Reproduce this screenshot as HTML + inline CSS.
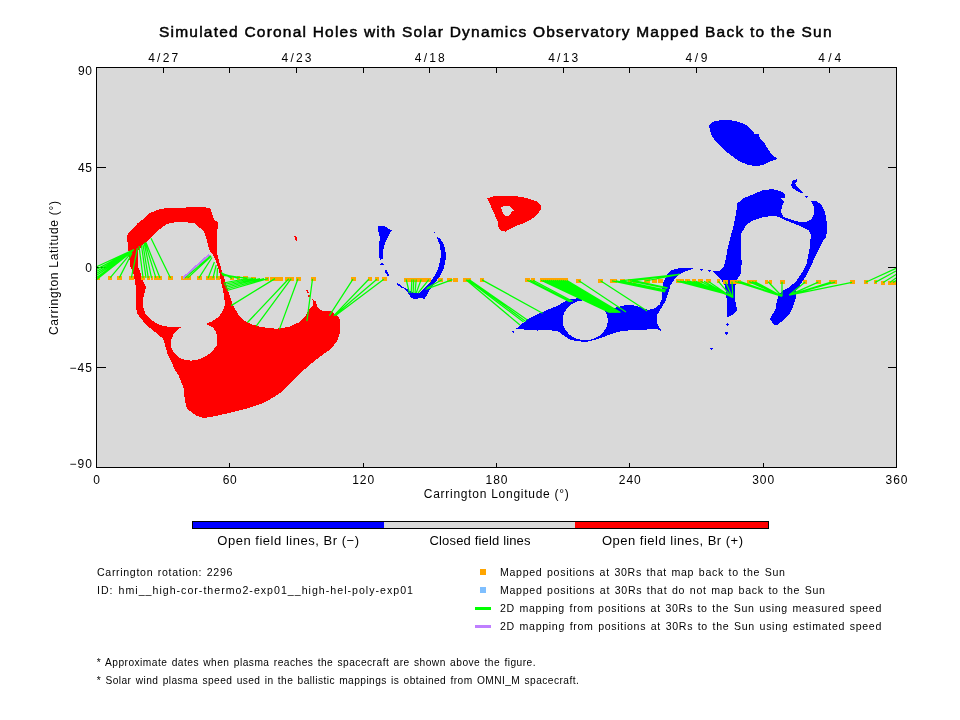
<!DOCTYPE html>
<html lang="en"><head><meta charset="utf-8">
<title>Simulated Coronal Holes with Solar Dynamics Observatory Mapped Back to the Sun</title>
<style>
html,body{margin:0;padding:0;background:#fff;}
body{width:960px;height:720px;overflow:hidden;}
svg{display:block;}
text{font-family:"Liberation Sans",sans-serif;fill:#000;}
.t12{font-size:12px;}
.t13{font-size:13px;}
.t11{font-size:10.6px;word-spacing:1px;}
.t10{font-size:10.2px;word-spacing:1px;}
.title{font-size:15.5px;stroke:#000;stroke-width:0.5px;}
</style></head><body>
<svg width="960" height="720" viewBox="0 0 960 720">
<rect x="0" y="0" width="960" height="720" fill="#ffffff"/>
<g shape-rendering="crispEdges">
<rect x="96" y="67" width="801" height="401" fill="#d9d9d9"/>
<path fill="#ff0000" fill-rule="evenodd" d="M127.0 237.0 L128.0 233.5 L132.5 228.5 L137.5 223.5 L143.8 218.5 L150.0 213.0 L158.8 209.4 L167.5 208.0 L180.0 208.0 L192.5 207.0 L201.2 207.0 L210.0 208.0 L212.0 213.8 L214.4 220.0 L217.5 222.0 L217.5 229.0 L217.0 237.5 L217.0 247.5 L217.5 255.0 L219.5 262.5 L221.5 270.0 L224.0 277.5 L226.0 284.0 L228.0 290.0 L230.0 297.0 L232.0 302.5 L235.0 308.8 L238.8 315.0 L245.0 321.0 L252.0 324.5 L261.0 327.0 L276.0 328.8 L288.5 327.0 L298.5 322.5 L306.0 315.0 L310.0 308.0 L313.0 306.2 L312.5 300.0 L310.6 298.1 L315.6 301.2 L317.0 306.2 L320.0 310.0 L323.8 311.0 L331.2 311.2 L336.2 315.0 L339.4 318.0 L340.2 322.5 L340.0 332.5 L337.0 341.0 L331.0 348.8 L321.0 356.0 L311.0 363.8 L301.0 372.5 L291.0 382.5 L281.0 392.5 L271.0 398.8 L261.0 403.8 L246.0 408.8 L231.0 412.5 L216.0 416.0 L203.5 418.0 L196.0 415.5 L187.0 408.8 L184.8 400.0 L183.5 387.5 L178.5 375.0 L175.0 370.0 L171.2 361.2 L167.5 353.8 L165.0 345.0 L163.0 338.8 L158.0 334.4 L152.5 330.0 L146.2 325.0 L141.2 318.8 L137.5 313.8 L135.5 305.6 L135.8 300.0 L135.8 287.3 L134.3 278.0 L133.0 271.7 L130.0 266.5 L129.6 261.2 L128.5 250.8 L128.0 245.6 L127.3 240.4Z M151.2 237.5 L156.2 232.0 L161.2 228.0 L167.5 223.8 L173.8 222.5 L182.5 222.2 L193.8 222.8 L198.8 227.0 L203.8 231.2 L206.2 237.5 L208.0 245.0 L210.0 251.2 L213.0 255.0 L215.6 260.0 L217.5 266.2 L219.5 272.5 L220.6 280.0 L222.5 287.5 L223.8 295.0 L225.0 303.8 L223.1 310.6 L218.8 316.9 L212.5 321.2 L206.2 323.8 L213.1 327.5 L216.2 332.5 L217.5 338.8 L216.9 345.0 L212.5 351.2 L206.2 356.2 L198.8 359.4 L191.2 360.6 L185.0 359.8 L178.8 357.5 L173.8 352.5 L170.6 346.2 L170.6 341.2 L173.8 333.8 L178.1 329.4 L182.5 326.5 L172.5 327.0 L163.8 326.2 L157.0 323.8 L150.0 318.8 L145.6 313.8 L143.0 306.2 L143.0 298.8 L146.0 287.5 L144.0 283.0 L142.0 278.0 L140.0 271.7 L138.0 266.5 L138.4 261.2 L138.0 250.8 L142.0 245.6 L148.3 240.4Z"/>
<polygon fill="#ff0000" points="294.3,236.0 296.3,236.0 297.4,240.8 295.6,240.8"/>
<polygon fill="#ff0000" points="306.0,289.8 307.8,289.8 309.0,292.8 307.2,292.8"/>
<polygon fill="#ff0000" points="307.8,294.8 309.8,294.8 310.8,297.2 308.8,297.2"/>
<path fill="#ff0000" fill-rule="evenodd" d="M487.2 198.5 L494.0 196.1 L515.8 196.1 L527.3 198.2 L536.7 201.4 L541.4 205.5 L540.8 209.7 L536.7 214.9 L532.5 218.5 L526.2 222.2 L519.0 224.8 L511.7 227.9 L505.4 231.6 L501.2 231.0 L498.1 226.4 L497.6 221.7 L495.0 215.4 L491.9 208.6 L489.3 202.4Z M501.2 207.6 L503.3 206.2 L509.6 206.0 L511.7 208.1 L513.8 210.4 L511.7 211.2 L510.1 214.9 L507.0 216.7 L504.4 215.4 L502.3 211.8Z"/>
<polygon fill="#0000ff" points="378.1,226.2 384.4,226.0 391.9,230.6 389.4,233.8 386.9,239.4 384.4,245.0 383.1,251.2 382.5,258.8 380.0,259.8 379.0,256.2 379.0,246.2 379.8,237.5 378.1,230.0"/>
<polygon fill="#0000ff" points="436.2,236.9 440.0,238.1 443.1,243.1 445.0,248.8 446.0,255.0 445.2,262.5 443.5,268.8 440.6,275.0 436.2,281.2 432.5,286.2 429.4,290.0 426.9,295.0 424.4,298.8 420.0,298.1 415.0,299.4 411.2,297.5 408.1,293.1 404.4,288.8 400.0,286.9 396.2,283.8 397.5,282.8 401.9,286.2 406.9,288.8 410.0,291.2 415.0,293.1 420.0,292.5 423.8,288.8 427.5,285.0 431.9,280.0 435.0,275.0 437.5,270.0 439.4,263.8 440.6,257.5 440.6,250.0 439.4,243.8 437.5,239.4"/>
<path fill="#0000ff" fill-rule="evenodd" d="M516.4 328.6 L521.5 324.3 L528.8 318.4 L537.5 314.1 L546.2 310.4 L555.0 306.8 L562.3 303.1 L568.1 299.5 L577.9 298.3 L584.0 298.5 L591.0 300.3 L598.3 303.3 L604.2 307.3 L608.5 310.6 L615.8 307.5 L624.6 305.3 L633.3 305.3 L642.1 307.5 L647.9 310.1 L655.2 308.2 L659.6 304.6 L661.8 298.8 L662.0 289.6 L663.3 282.3 L667.0 275.0 L670.6 270.6 L677.9 268.4 L685.2 268.0 L692.5 268.0 L692.5 269.2 L685.2 271.4 L679.4 274.3 L674.3 279.4 L670.6 285.2 L668.4 292.5 L665.5 301.2 L661.9 307.1 L657.5 314.4 L656.8 321.7 L659.0 327.5 L661.9 331.1 L655.2 328.6 L647.9 329.4 L639.2 330.1 L627.5 330.5 L618.8 331.6 L610.0 334.5 L602.7 337.4 L595.4 339.6 L586.7 341.8 L577.9 341.3 L569.2 339.3 L563.3 335.2 L559.0 331.6 L548.8 330.1 L537.5 330.5 L525.8 329.7Z M562.6 320.2 a22.6 20.0 0 1 0 45.2 0 a22.6 20.0 0 1 0 -45.2 0Z"/>
<polygon fill="#0000ff" points="727.5,316.6 727.2,310.0 726.8,301.2 726.0,292.5 724.6,285.2 720.9,279.4 715.8,274.3 712.2,270.9 719.5,271.4 723.9,266.2 726.0,257.5 727.5,248.8 729.7,240.0 733.3,226.7 735.8,215.0 737.5,203.3 743.3,198.3 753.3,194.2 763.3,190.0 773.3,189.2 781.7,191.7 785.0,194.2 785.0,197.5 780.8,198.3 784.2,201.7 781.7,206.7 781.3,212.5 783.3,216.7 790.0,219.2 798.3,221.7 806.7,221.7 811.7,219.2 814.2,213.3 813.7,206.7 811.3,201.3 816.7,201.3 821.7,205.0 825.0,211.7 826.7,221.7 827.5,230.0 825.8,237.5 823.4,240.0 819.8,247.3 815.4,256.0 811.0,266.2 806.7,275.0 800.8,283.8 796.5,290.3 795.7,298.3 792.8,307.1 789.2,314.4 784.1,319.5 777.5,324.8 773.9,324.6 770.2,319.5 770.9,316.6 775.3,310.0 776.8,301.2 779.0,294.0 783.3,290.3 789.2,287.4 796.5,280.8 802.3,272.1 806.7,263.3 808.3,255.0 810.0,246.7 810.8,235.0 808.3,230.0 801.7,226.7 793.3,223.3 785.0,220.0 778.3,216.7 771.7,215.8 761.7,217.5 751.7,220.8 745.8,225.8 741.3,233.3 740.8,246.7 741.7,263.3 740.6,273.5 737.0,280.1 734.8,288.1 734.8,298.3 736.2,305.6 737.0,310.0 733.3,314.4 729.0,316.6"/>
<polygon fill="#0000ff" points="709.2,125.0 713.3,121.7 721.7,120.0 730.0,120.0 738.3,121.7 745.0,124.2 750.8,129.2 755.0,134.2 758.3,133.3 760.0,138.3 764.2,142.5 767.5,148.3 771.7,154.2 777.5,159.2 771.7,160.8 765.0,164.2 756.7,166.3 748.3,165.0 740.0,161.7 731.7,155.8 723.3,149.2 716.7,142.5 711.7,135.8 709.7,130.0"/>
<polygon fill="#0000ff" points="796.7,179.2 792.5,180.8 791.2,185.0 792.5,188.3 796.7,190.8 801.7,193.3 803.3,192.5 799.0,188.5 796.2,186.0 795.4,183.5 797.2,181.3"/>
<polygon fill="#0000ff" points="380.0,264.3 382.0,263.0 383.9,264.3 382.0,265.7"/>
<polygon fill="#0000ff" points="384.4,270.0 387.0,270.0 388.9,275.6 387.3,275.6 385.5,272.5"/>
<polygon fill="#0000ff" points="433.1,231.9 435.8,231.9 434.8,233.8"/>
<polygon fill="#0000ff" points="511.2,330.8 515.0,330.8 513.2,333.0"/>
<polygon fill="#0000ff" points="699.8,269.2 702.8,269.2 701.3,271.0"/>
<polygon fill="#0000ff" points="707.8,269.9 711.5,269.9 709.6,271.9"/>
<polygon fill="#0000ff" points="727.5,322.8 729.2,324.6 727.5,326.3 725.9,324.6"/>
<polygon fill="#0000ff" points="724.4,331.5 728.8,331.5 726.6,335.6"/>
<polygon fill="#0000ff" points="805.0,195.8 808.3,195.8 807.3,197.6 805.8,197.6"/>
<polygon fill="#0000ff" points="709.8,347.7 713.4,347.7 711.6,350.4"/>
<path fill="none" stroke="#000" stroke-width="1" d="M163.5 67.5v5M229.5 67.5v5M296.5 67.5v5M363.5 67.5v5M429.5 67.5v5M496.5 67.5v5M563.5 67.5v5M629.5 67.5v5M696.5 67.5v5M763.5 67.5v5M829.5 67.5v5M96.5 467.5v-5M229.5 467.5v-5M363.5 467.5v-5M496.5 467.5v-5M629.5 467.5v-5M763.5 467.5v-5M896.5 467.5v-5M96.5 67.5h9M896.5 67.5h-9M96.5 167.5h9M896.5 167.5h-9M96.5 267.5h9M896.5 267.5h-9M96.5 367.5h9M896.5 367.5h-9M96.5 467.5h9M896.5 467.5h-9"/>
<path fill="#ffa500" d="M96.5 275.5h3.5v4h-3.5zM108.2 275.6h4.2v4h-4.2zM117.3 275.6h4.3v4h-4.3zM129.3 275.7h4.3v4h-4.3zM141.0 275.8h4.0v4h-4.0zM146.6 275.8h3.4v4h-3.4zM150.6 275.9h2.0v4h-2.0zM154.0 275.9h3.8v4h-3.8zM158.3 275.9h3.7v4h-3.7zM168.3 276.0h4.4v4h-4.4zM181.3 276.1h4.2v4h-4.2zM186.2 276.1h4.4v4h-4.4zM197.0 276.2h5.0v4h-5.0zM206.0 276.2h4.5v4h-4.5zM211.0 276.2h4.0v4h-4.0zM215.5 276.3h4.5v4h-4.5zM230.0 276.4h3.8v4h-3.8zM237.0 276.4h3.0v4h-3.0zM243.0 276.4h5.0v4h-5.0zM250.6 276.5h5.0v4h-5.0zM265.0 276.6h4.0v4h-4.0zM270.0 276.6h4.5v4h-4.5zM275.0 276.6h3.5v4h-3.5zM279.0 276.7h3.5v4h-3.5zM285.0 276.7h3.5v4h-3.5zM289.3 276.7h4.2v4h-4.2zM296.3 276.8h4.7v4h-4.7zM311.2 276.9h4.4v4h-4.4zM351.2 277.1h4.4v4h-4.4zM367.5 277.2h4.0v4h-4.0zM375.0 277.3h4.4v4h-4.4zM382.0 277.3h4.9v4h-4.9zM404.4 277.5h26.2v4h-26.2zM437.5 277.7h5.0v4h-5.0zM446.9 277.7h4.6v4h-4.6zM452.5 277.8h5.0v4h-5.0zM463.0 277.8h3.5v4h-3.5zM467.0 277.8h3.6v4h-3.6zM479.9 277.9h4.4v4h-4.4zM525.1 278.2h4.4v4h-4.4zM530.5 278.3h4.8v4h-4.8zM540.4 278.4h27.3v4h-27.3zM575.7 278.5h5.1v4h-5.1zM598.3 278.7h4.4v4h-4.4zM610.0 278.7h3.5v4h-3.5zM614.0 278.8h3.3v4h-3.3zM620.2 278.8h4.4v4h-4.4zM627.5 278.9h4.5v4h-4.5zM633.0 278.9h4.7v4h-4.7zM644.3 279.0h5.8v4h-5.8zM651.6 279.0h4.9v4h-4.9zM657.5 279.1h5.0v4h-5.0zM675.7 279.2h8.0v4h-8.0zM685.2 279.2h5.1v4h-5.1zM691.8 279.3h4.3v4h-4.3zM698.3 279.3h4.4v4h-4.4zM706.4 279.4h4.3v4h-4.3zM716.6 279.4h3.6v4h-3.6zM723.1 279.5h4.4v4h-4.4zM730.4 279.5h11.0v4h-11.0zM747.2 279.6h4.3v4h-4.3zM752.3 279.6h4.4v4h-4.4zM765.0 279.7h3.0v4h-3.0zM768.5 279.7h3.2v4h-3.2zM779.7 279.8h5.1v4h-5.1zM803.0 280.0h4.4v4h-4.4zM816.1 280.1h4.4v4h-4.4zM829.3 280.1h3.2v4h-3.2zM833.0 280.2h3.6v4h-3.6zM849.7 280.3h5.1v4h-5.1zM863.5 280.3h4.4v4h-4.4zM873.8 280.4h3.6v4h-3.6zM881.0 280.5h3.7v4h-3.7zM887.6 280.5h3.9v4h-3.9zM892.0 280.5h4.0v4h-4.0z"/>
<path fill="none" stroke="#bf7fff" stroke-width="2" d="M183.0 278.0L209.4 254.4"/>
<path fill="none" shape-rendering="geometricPrecision" stroke="#00ff00" stroke-width="1.25" d="M96.0 267.0L134.0 249.5M96.0 269.6L134.0 249.5M96.0 271.7L133.5 250.0M96.0 273.8L133.0 250.5M96.0 275.8L132.5 251.0M96.0 277.9L132.0 251.5M96.0 280.0L131.5 252.0M98.0 277.5L131.0 252.5M110.3 277.6L131.5 252.5M119.4 277.6L132.0 253.0M131.4 277.7L137.4 248.2M143.1 277.8L139.0 246.0M146.0 277.8L141.5 245.5M148.3 277.8L143.0 244.5M151.5 277.8L144.2 243.0M155.9 277.9L145.0 242.5M160.0 277.9L146.0 242.5M170.5 278.0L151.0 238.3M185.0 278.1L210.6 255.6M187.5 278.1L211.2 256.2M198.8 278.1L212.0 257.5M208.0 278.2L214.4 261.9M213.0 278.2L216.2 265.0M216.9 278.3L217.5 268.0M221.0 272.5L232.0 278.4M221.5 273.5L238.5 278.4M222.0 274.5L245.5 278.4M222.5 275.5L253.0 278.5M223.5 283.0L247.0 278.5M224.0 284.5L252.0 278.5M224.8 286.0L256.0 278.5M225.5 287.5L260.0 278.5M226.2 289.0L264.0 278.6M227.0 290.5L268.0 278.6M231.2 305.6L275.0 278.6M247.5 322.5L288.8 278.7M256.2 326.2L291.2 278.7M279.4 329.4L298.0 278.8M306.9 321.2L312.5 278.9M329.4 315.6L353.0 279.1M333.8 315.6L368.8 279.2M334.4 315.6L376.9 279.3M335.6 315.6L383.8 279.3M406.2 279.5L409.4 293.0M411.9 279.5L411.2 293.0M413.8 279.5L413.1 293.0M416.2 279.5L415.0 293.0M421.2 279.5L416.2 293.0M428.8 279.6L418.1 293.0M442.0 279.7L427.0 288.0M452.5 279.7L425.6 289.4M466.0 279.8L520.0 325.0M467.5 279.8L523.6 322.0M469.0 279.8L525.8 321.4M469.7 279.9L527.3 319.9M482.0 279.9L542.6 313.3M527.3 280.2L569.6 301.7M530.0 280.2L571.0 301.7M533.0 280.3L573.0 301.5M541.0 280.3L609.5 312.5M543.0 280.3L610.4 312.5M545.0 280.3L611.2 312.5M547.0 280.3L612.0 312.5M549.0 280.4L612.9 312.5M551.0 280.4L613.8 312.5M553.0 280.4L614.6 312.5M555.0 280.4L615.5 312.5M557.0 280.4L616.3 312.5M559.0 280.4L617.1 312.5M561.0 280.4L618.0 312.5M563.0 280.4L618.9 312.5M565.0 280.5L619.7 312.5M567.0 280.5L620.5 312.5M578.6 280.5L626.0 311.9M600.5 280.7L647.2 311.1M612.0 280.8L665.0 292.0M616.0 280.8L665.5 291.0M622.0 280.8L666.0 290.0M630.0 280.9L667.0 288.5M635.0 280.9L667.6 287.8M679.4 274.3L620.0 280.8M679.4 274.3L632.0 280.9M679.4 274.3L645.0 281.0M677.0 281.2L727.5 294.3M680.0 281.2L728.0 294.6M683.0 281.2L728.4 294.9M687.0 281.2L728.9 295.2M689.5 281.2L729.3 295.5M693.5 281.3L729.8 295.8M696.0 281.3L730.2 296.1M700.5 281.3L730.6 296.4M704.0 281.3L731.1 296.7M708.5 281.4L731.5 297.0M718.4 281.4L732.0 297.3M725.3 281.5L732.5 297.6M732.0 281.5L732.9 297.9M735.0 281.5L782.0 296.3M738.0 281.5L782.0 296.3M740.5 281.6L782.0 296.3M749.0 281.6L782.0 296.3M752.0 281.6L782.0 296.3M755.0 281.7L782.0 296.3M768.0 281.7L782.0 296.3M782.0 281.8L782.0 296.3M805.2 282.0L789.2 295.1M818.3 282.1L789.2 295.1M831.0 282.1L789.2 295.1M835.0 282.2L789.2 295.1M852.0 282.3L789.2 295.1M865.7 282.3L896.0 268.4M875.2 282.4L896.0 271.0M883.2 282.5L896.0 274.5M889.8 282.5L896.0 278.0M893.0 282.5L896.0 280.5"/>
<path fill="none" stroke="#000" stroke-width="1" d="M96.5 67.5H896.5V467.5H96.5Z"/>
<rect x="192" y="521" width="577" height="8" fill="#000"/>
<rect x="193" y="522" width="191" height="6" fill="#0000ff"/>
<rect x="384" y="522" width="191" height="6" fill="#d9d9d9"/>
<rect x="575" y="522" width="193" height="6" fill="#ff0000"/>
<rect x="480" y="569" width="6" height="6" fill="#ffa500"/>
<rect x="480" y="587" width="6" height="6" fill="#7fbfff"/>
<rect x="475" y="607" width="16" height="3" fill="#00ff00"/>
<rect x="475" y="625" width="16" height="3" fill="#bf7fff"/>
</g>
<g opacity="0.999">
<text x="159.0" y="36.5" class="title" text-anchor="start" textLength="672.5" lengthAdjust="spacing">Simulated Coronal Holes with Solar Dynamics Observatory Mapped Back to the Sun</text>
<text x="148.2" y="62.0" class="t12" text-anchor="start" textLength="30.0" lengthAdjust="spacing">4/27</text>
<text x="281.5" y="62.0" class="t12" text-anchor="start" textLength="30.0" lengthAdjust="spacing">4/23</text>
<text x="414.8" y="62.0" class="t12" text-anchor="start" textLength="30.0" lengthAdjust="spacing">4/18</text>
<text x="548.2" y="62.0" class="t12" text-anchor="start" textLength="30.0" lengthAdjust="spacing">4/13</text>
<text x="685.5" y="62.0" class="t12" text-anchor="start" textLength="22.0" lengthAdjust="spacing">4/9</text>
<text x="818.3" y="62.0" class="t12" text-anchor="start" textLength="23.0" lengthAdjust="spacing">4/4</text>
<text x="78.0" y="75.0" class="t12" text-anchor="start" textLength="14.0" lengthAdjust="spacing">90</text>
<text x="78.0" y="171.5" class="t12" text-anchor="start" textLength="14.0" lengthAdjust="spacing">45</text>
<text x="92.0" y="271.8" class="t12" text-anchor="end">0</text>
<text x="69.5" y="371.8" class="t12" text-anchor="start" textLength="22.5" lengthAdjust="spacing">−45</text>
<text x="69.5" y="468.0" class="t12" text-anchor="start" textLength="22.5" lengthAdjust="spacing">−90</text>
<text x="96.5" y="484.0" class="t12" text-anchor="middle">0</text>
<text x="222.8" y="484.0" class="t12" text-anchor="start" textLength="14.0" lengthAdjust="spacing">60</text>
<text x="352.2" y="484.0" class="t12" text-anchor="start" textLength="22.0" lengthAdjust="spacing">120</text>
<text x="485.5" y="484.0" class="t12" text-anchor="start" textLength="22.0" lengthAdjust="spacing">180</text>
<text x="618.8" y="484.0" class="t12" text-anchor="start" textLength="22.0" lengthAdjust="spacing">240</text>
<text x="752.2" y="484.0" class="t12" text-anchor="start" textLength="22.0" lengthAdjust="spacing">300</text>
<text x="885.5" y="484.0" class="t12" text-anchor="start" textLength="22.0" lengthAdjust="spacing">360</text>
<text x="423.8" y="498.3" class="t12" text-anchor="start" textLength="145.0" lengthAdjust="spacing">Carrington Longitude (°)</text>
<text class="t12" transform="translate(58.3,335) rotate(-90)" textLength="134" lengthAdjust="spacing">Carrington Latitude (°)</text>
<text x="217.3" y="545.3" class="t13" text-anchor="start" textLength="141.7" lengthAdjust="spacing">Open field lines, Br (−)</text>
<text x="429.5" y="545.3" class="t13" text-anchor="start" textLength="101.0" lengthAdjust="spacing">Closed field lines</text>
<text x="602.0" y="545.3" class="t13" text-anchor="start" textLength="141.0" lengthAdjust="spacing">Open field lines, Br (+)</text>
<text x="97.0" y="575.7" class="t11" text-anchor="start" textLength="135.4" lengthAdjust="spacing">Carrington rotation: 2296</text>
<text x="97.0" y="594.0" class="t11" text-anchor="start" textLength="316.0" lengthAdjust="spacing">ID: hmi__high-cor-thermo2-exp01__high-hel-poly-exp01</text>
<text x="500.0" y="576.2" class="t11" text-anchor="start" textLength="285.0" lengthAdjust="spacing">Mapped positions at 30Rs that map back to the Sun</text>
<text x="500.0" y="594.2" class="t11" text-anchor="start" textLength="325.0" lengthAdjust="spacing">Mapped positions at 30Rs that do not map back to the Sun</text>
<text x="500.0" y="612.4" class="t11" text-anchor="start" textLength="381.3" lengthAdjust="spacing">2D mapping from positions at 30Rs to the Sun using measured speed</text>
<text x="500.0" y="630.4" class="t11" text-anchor="start" textLength="381.3" lengthAdjust="spacing">2D mapping from positions at 30Rs to the Sun using estimated speed</text>
<text x="96.8" y="666.2" class="t10" text-anchor="start" textLength="438.8" lengthAdjust="spacing">* Approximate dates when plasma reaches the spacecraft are shown above the figure.</text>
<text x="96.8" y="684.4" class="t10" text-anchor="start" textLength="482.0" lengthAdjust="spacing">* Solar wind plasma speed used in the ballistic mappings is obtained from OMNI_M spacecraft.</text>
</g>
</svg>
</body></html>
